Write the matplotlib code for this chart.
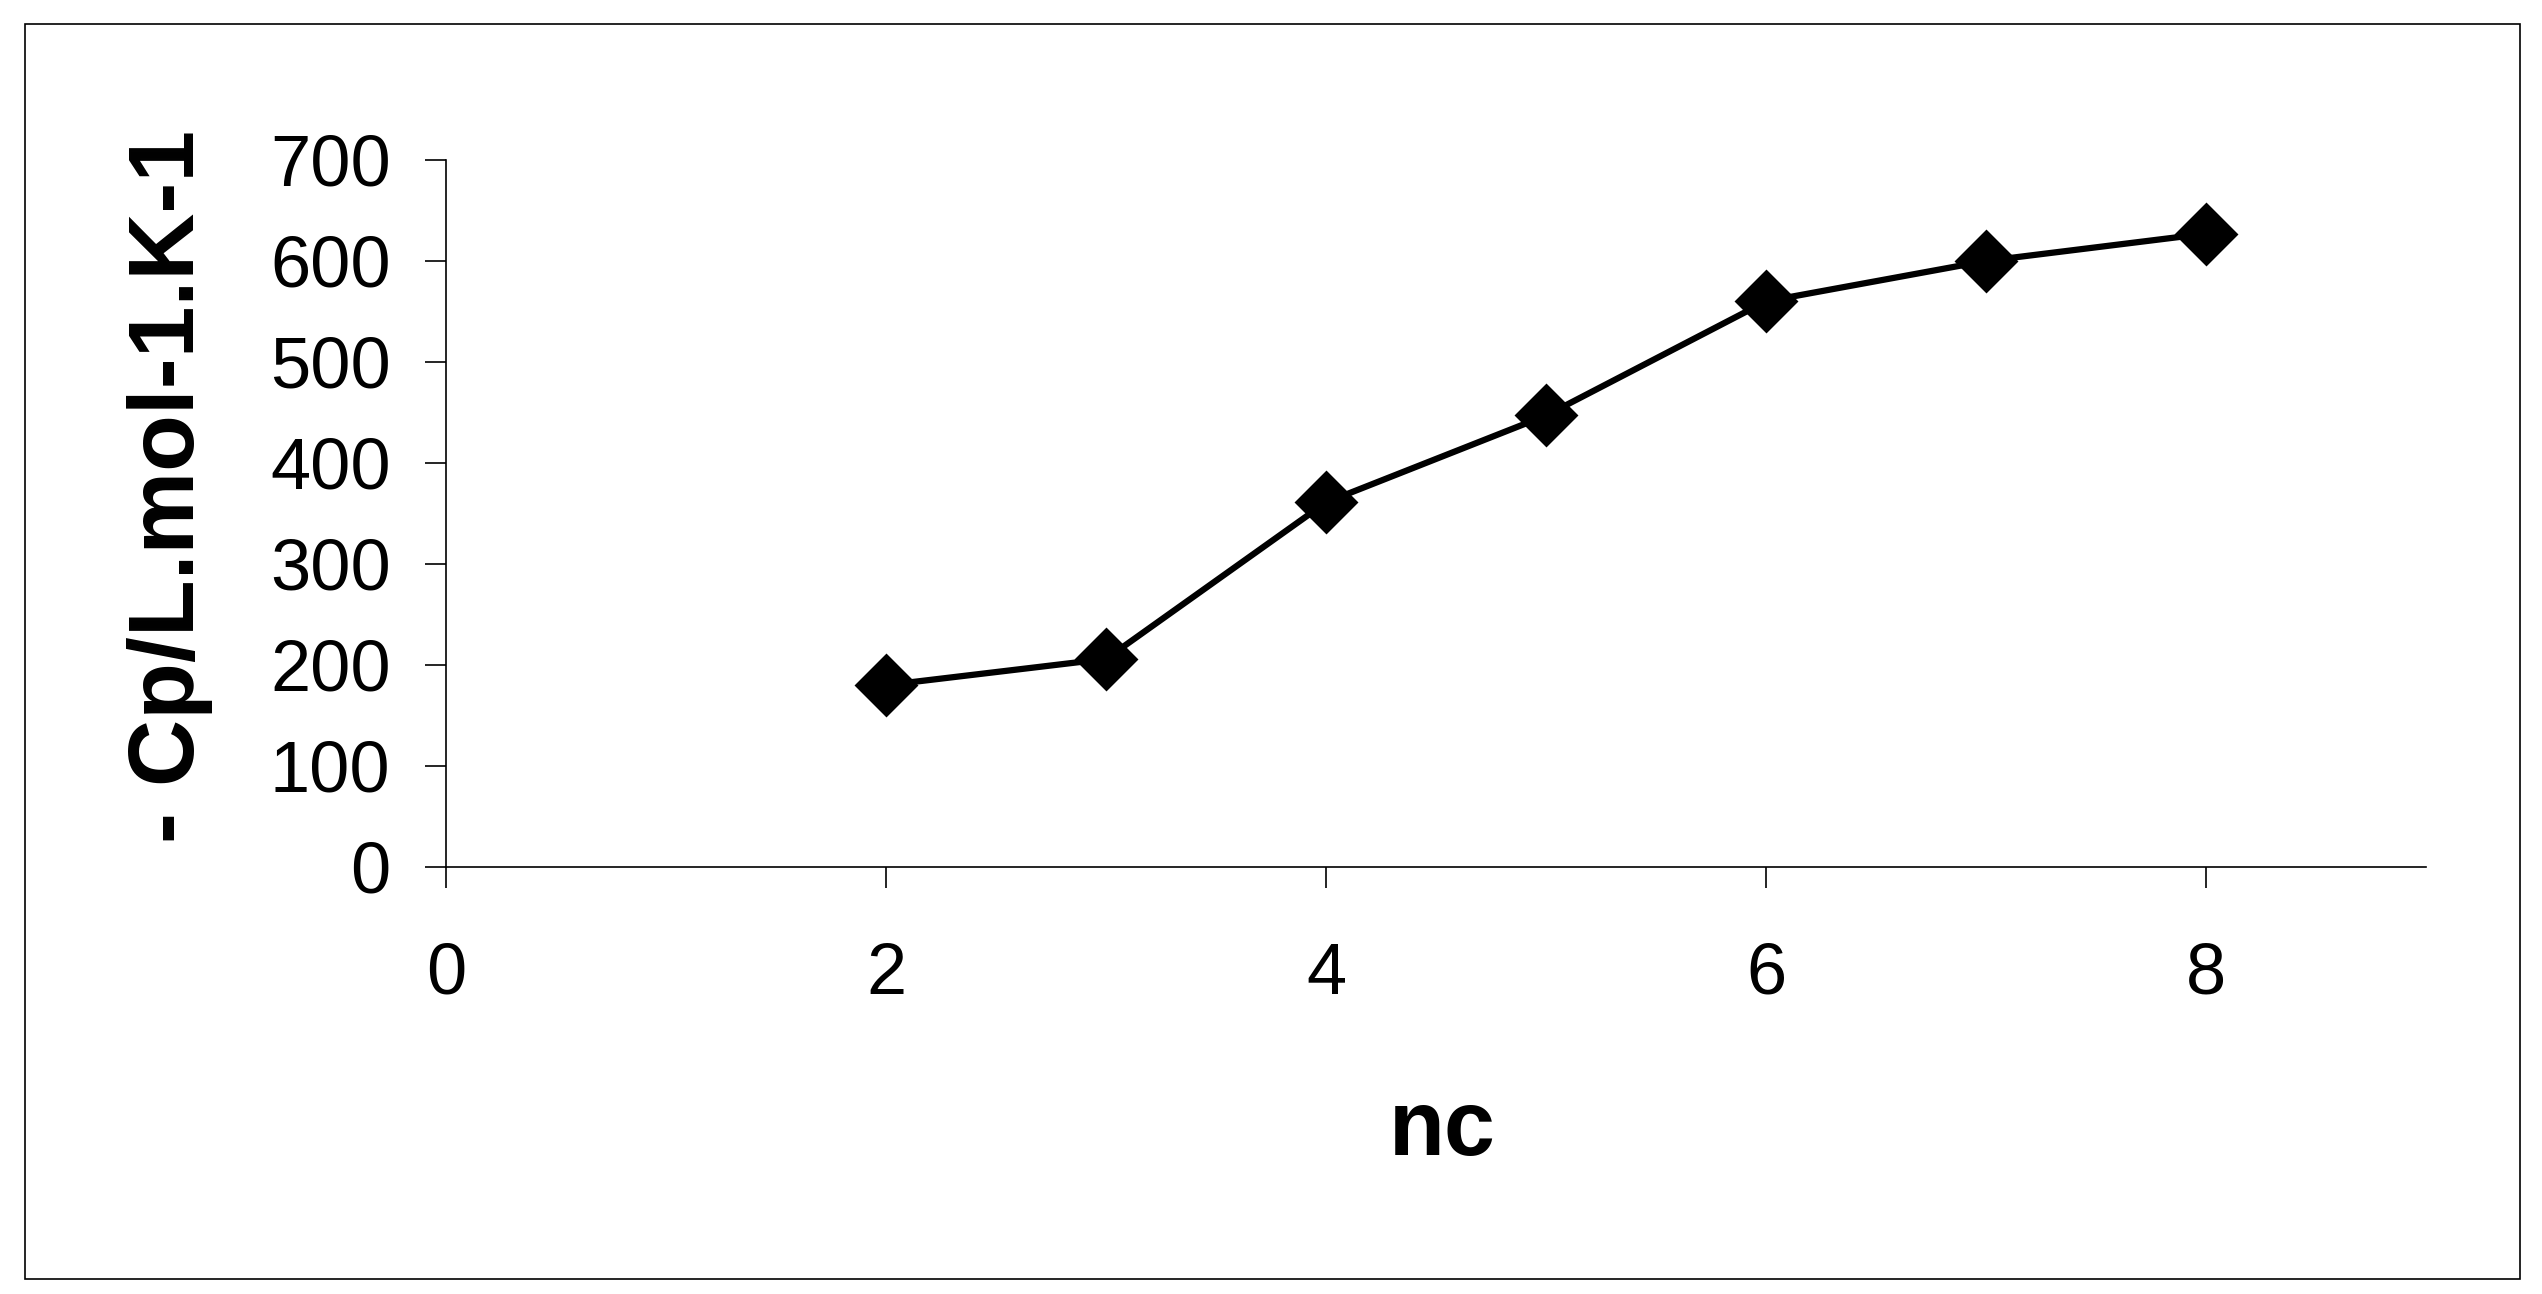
import matplotlib
matplotlib.use('Agg')
import matplotlib.pyplot as plt
from matplotlib.patches import Rectangle

# data
nc = [2, 3, 4, 5, 6, 7, 8]
cp = [180, 206, 361, 447, 560, 600, 627]
x_ticks = [0, 2, 4, 6, 8]
y_ticks = [0, 100, 200, 300, 400, 500, 600, 700]

plt.rcParams['font.family'] = ['Liberation Sans', 'DejaVu Sans']

fig = plt.figure(figsize=(25.42, 12.94), dpi=100)
ax = fig.add_axes([0.1755, 0.3300, 0.9544 - 0.1755, 0.8764 - 0.3300])

ax.plot(nc, cp, color='black', linewidth=4.5, marker='D', markersize=31,
        markerfacecolor='black', markeredgecolor='black', markeredgewidth=2,
        solid_joinstyle='round')

ax.set_xlim(0, 9)
ax.set_ylim(0, 700)
ax.set_xticks(x_ticks)
ax.set_yticks(y_ticks)

for side in ['top', 'right']:
    ax.spines[side].set_visible(False)
for side in ['left', 'bottom']:
    ax.spines[side].set_linewidth(1.2)

ax.tick_params(axis='x', direction='out', length=15, width=1.2, pad=39, labelsize=52)
ax.tick_params(axis='y', direction='out', length=15, width=1.2, pad=25, labelsize=52)

# axis titles
fig.text(1442 / 2542, 1 - 1088 / 1294, 'nc', fontsize=66, fontweight='bold',
         ha='center', va='top')
fig.text(170 / 2542, 1 - 486 / 1294, '- Cp/L.mol-1.K-1', fontsize=67,
         fontweight='bold', rotation=90, ha='center', va='center')

# outer frame
fig.patches.append(Rectangle((25 / 2542, 1 - 1279 / 1294), 2495 / 2542, 1255 / 1294,
                             transform=fig.transFigure, fill=False,
                             edgecolor='black', linewidth=1.2))

fig.savefig('out.png', dpi=100, facecolor='white')
